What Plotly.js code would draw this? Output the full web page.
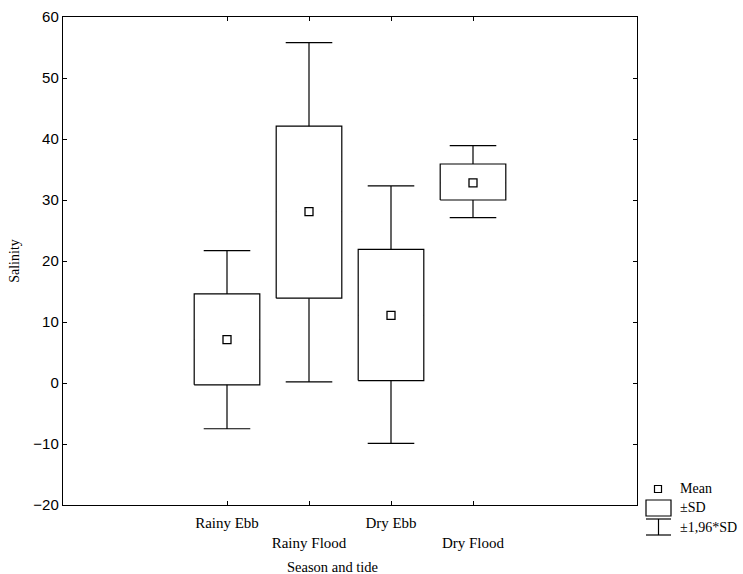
<!DOCTYPE html>
<html>
<head>
<meta charset="utf-8">
<script src="https://cdn.plot.ly/plotly-3.0.1.min.js"></script>
<style>html,body{margin:0;padding:0;background:#fff;}#chart{width:743px;height:574px;}</style>
</head>
<body>
<div id="chart"></div>
<script>
// Data
var categories = ["Rainy Ebb", "Rainy Flood", "Dry Ebb", "Dry Flood"];
var positions = [2, 3, 4, 5];
var tickLabels = ["Rainy Ebb", "<br>Rainy Flood", "Dry Ebb", "<br>Dry Flood"];
var meanValues = [7.1, 28.1, 11.1, 32.8];
var sdLow = [-0.3, 13.9, 0.4, 30.0];
var sdHigh = [14.6, 42.1, 21.9, 35.9];
var ciLow = [-7.5, 0.2, -9.9, 27.1];
var ciHigh = [21.7, 55.8, 32.3, 38.9];

var serif = "Liberation Serif, Times New Roman, serif";
var sans = "Liberation Sans, Arial, sans-serif";
var boxWidth = 0.8;
var lw = 1.2;

// Whiskers (±1.96*SD) drawn by a box trace collapsed at the mean
var whiskerTrace = {
  type: "box",
  x: positions,
  q1: meanValues,
  median: meanValues,
  q3: meanValues,
  lowerfence: ciLow,
  upperfence: ciHigh,
  width: boxWidth,
  whiskerwidth: 0.71,
  boxpoints: false,
  fillcolor: "#ffffff",
  line: {color: "#000000", width: lw},
  showlegend: false,
  hoverinfo: "skip"
};

// ±SD boxes: white-filled rectangles drawn on top of the whiskers
var rx = [], ry = [];
for (var i = 0; i < positions.length; i++) {
  var a = positions[i] - boxWidth / 2, b = positions[i] + boxWidth / 2;
  rx.push(a, b, b, a, a, null);
  ry.push(sdLow[i], sdLow[i], sdHigh[i], sdHigh[i], sdLow[i], null);
}
var sdTrace = {
  type: "scatter",
  mode: "lines",
  x: rx,
  y: ry,
  fill: "toself",
  fillcolor: "#ffffff",
  line: {color: "#000000", width: lw},
  connectgaps: false,
  showlegend: false,
  hoverinfo: "skip"
};

var meanTrace = {
  type: "scatter",
  mode: "markers",
  x: positions,
  y: meanValues,
  marker: {symbol: "square-open", size: 8, color: "#000000", line: {width: 1.3, color: "#000000"}},
  showlegend: false,
  hoverinfo: "skip"
};

// legend helpers in pixel-converted paper coords
var L = 63, W = 574, B = 505, H = 488;
function px(x) { return (x - L) / W; }
function py(y) { return (B - y) / H; }

var shapes = [
  {type: "rect", xref: "paper", yref: "paper", x0: px(654.5), x1: px(661.5), y0: py(492.5), y1: py(485.5), line: {color: "#000", width: lw}},
  {type: "rect", xref: "paper", yref: "paper", x0: px(646), x1: px(671), y0: py(516), y1: py(500), line: {color: "#000", width: lw}},
  {type: "line", xref: "paper", yref: "paper", x0: px(646), x1: px(671), y0: py(519), y1: py(519), line: {color: "#000", width: lw}},
  {type: "line", xref: "paper", yref: "paper", x0: px(646), x1: px(671), y0: py(535), y1: py(535), line: {color: "#000", width: lw}},
  {type: "line", xref: "paper", yref: "paper", x0: px(658.5), x1: px(658.5), y0: py(519), y1: py(535), line: {color: "#000", width: lw}}
];

var legendFont = {family: serif, size: 14, color: "#000"};
var annotations = [
  {xref: "paper", yref: "paper", x: px(678), y: py(488), xanchor: "left", yanchor: "middle", text: "Mean", showarrow: false, font: legendFont},
  {xref: "paper", yref: "paper", x: px(678), y: py(508), xanchor: "left", yanchor: "middle", text: "±SD", showarrow: false, font: legendFont},
  {xref: "paper", yref: "paper", x: px(678), y: py(527), xanchor: "left", yanchor: "middle", text: "±1,96*SD", showarrow: false, font: legendFont},
  {xref: "paper", yref: "paper", x: px(332), y: py(567), xanchor: "center", yanchor: "middle", text: "Season and tide", showarrow: false, font: {family: serif, size: 14.5, color: "#000"}}
];

var layout = {
  width: 743,
  height: 574,
  margin: {l: 63, r: 106, t: 17, b: 69},
  paper_bgcolor: "#ffffff",
  plot_bgcolor: "#ffffff",
  showlegend: false,
  xaxis: {
    type: "linear",
    range: [0, 7],
    tickmode: "array",
    tickvals: positions,
    ticktext: tickLabels,
    ticks: "inside",
    ticklen: 4,
    tickcolor: "#000",
    showline: true,
    linecolor: "#000",
    linewidth: lw,
    mirror: "ticks",
    showgrid: false,
    zeroline: false,
    tickfont: {family: serif, size: 15, color: "#000"},
    ticklabelstandoff: 4
  },
  yaxis: {
    range: [-20, 60],
    tickmode: "linear",
    tick0: -20,
    dtick: 10,
    ticks: "inside",
    ticklen: 4,
    tickcolor: "#000",
    showline: true,
    linecolor: "#000",
    linewidth: lw,
    mirror: "ticks",
    showgrid: false,
    zeroline: false,
    tickfont: {family: sans, size: 15, color: "#000"},
    title: {text: "Salinity", font: {family: serif, size: 14, color: "#000"}, standoff: 10}
  },
  shapes: shapes,
  annotations: annotations
};

Plotly.newPlot("chart", [whiskerTrace, sdTrace, meanTrace], layout, {staticPlot: true, displayModeBar: false});
</script>
</body>
</html>
